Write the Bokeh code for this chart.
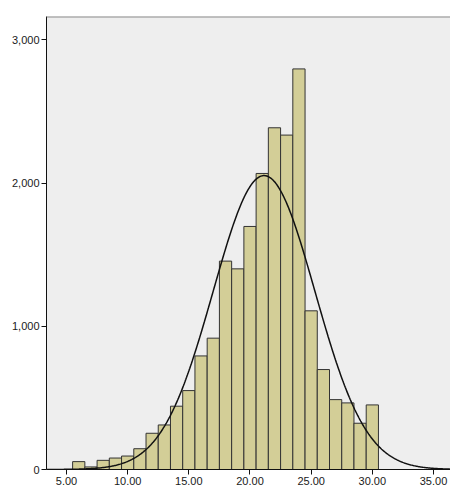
import numpy as np
from bokeh.plotting import figure
from bokeh.models import Range1d, FixedTicker, NumeralTickFormatter, Span, ColumnDataSource
from bokeh.embed import file_html
from bokeh.resources import INLINE

# Histogram data (bin centres, counts per bin)
bin_centers = [6, 7, 8, 9, 10, 11, 12, 13, 14, 15, 16, 17, 18,
               19, 20, 21, 22, 23, 24, 25, 26, 27, 28, 29, 30]
counts = [55, 18, 64, 80, 94, 145, 253, 311, 442, 551, 793, 917, 1455,
          1401, 1697, 2067, 2386, 2335, 2797, 1108, 698, 488, 465, 323, 451]
bin_width = 1.0

x_ticks = [5, 10, 15, 20, 25, 30, 35]
y_ticks = [0, 1000, 2000, 3000]

x_start, x_end = 3.365, 36.39
y_start, y_end = 0, 3163

# Normal curve fitted to the histogram data
c = np.array(bin_centers, dtype=float)
w = np.array(counts, dtype=float)
n_total = w.sum()
mean = np.average(c, weights=w)
sd = np.sqrt(np.average((c - mean) ** 2, weights=w))
curve_x = np.linspace(x_start, x_end, 500)
curve_y = n_total * bin_width / (sd * np.sqrt(2 * np.pi)) * np.exp(-0.5 * ((curve_x - mean) / sd) ** 2)

p = figure(width=450, height=487, output_backend="svg", toolbar_location=None,
           x_range=Range1d(x_start, x_end), y_range=Range1d(y_start, y_end),
           min_border_left=46, min_border_right=0, min_border_top=16, min_border_bottom=0)

p.background_fill_color = "#EEEEEE"
p.border_fill_color = "white"
p.outline_line_color = None
p.xgrid.visible = False
p.ygrid.visible = False

src = ColumnDataSource(dict(x=bin_centers, top=counts))
p.vbar(x="x", top="top", bottom=0, width=bin_width, source=src,
       fill_color="#D3CE97", line_color="#333333", line_width=1)

p.line(curve_x, curve_y, line_color="#111111", line_width=1.5)

p.add_layout(Span(location=y_end, dimension="width", line_color="#8A8A8A", line_width=2))

for ax in (p.xaxis[0], p.yaxis[0]):
    ax.axis_line_color = "#111111"
    ax.axis_line_width = 1
    ax.major_tick_line_color = "#111111"
    ax.major_tick_out = 5
    ax.major_tick_in = 0
    ax.minor_tick_out = 0
    ax.minor_tick_in = 0
    ax.major_label_text_font = "Liberation Sans"
    ax.major_label_text_font_size = "11px"
    ax.major_label_text_color = "#1a1a1a"
    ax.major_label_standoff = 2

p.xaxis.ticker = FixedTicker(ticks=x_ticks)
p.xaxis.formatter = NumeralTickFormatter(format="0.00")
p.yaxis.ticker = FixedTicker(ticks=y_ticks)
p.yaxis.formatter = NumeralTickFormatter(format="0,0")

open("out.html", "w").write(file_html(p, INLINE))
